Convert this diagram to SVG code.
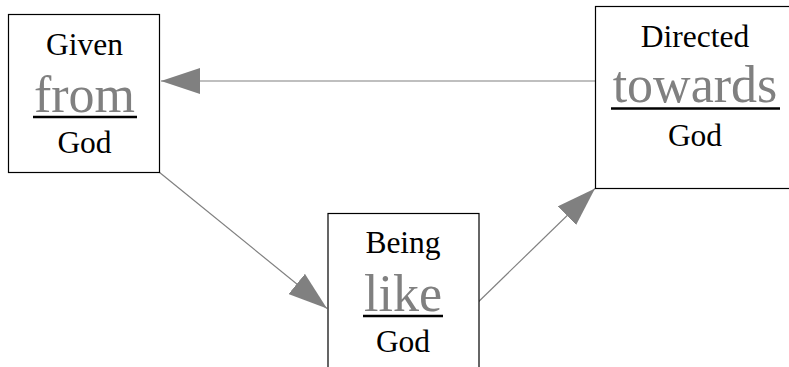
<svg xmlns="http://www.w3.org/2000/svg" width="789" height="367" viewBox="0 0 789 367">
<style>
.box{fill:#fff;stroke:#000;stroke-width:1.2}
.t{font-family:"Liberation Serif","Times New Roman",serif;font-size:31.5px;fill:#000;text-anchor:middle}
.big{font-family:"Liberation Serif","Times New Roman",serif;font-size:52px;fill:#808080;text-anchor:middle}
.ul{stroke:#000;stroke-width:2.6}
.conn{stroke:#808080;stroke-width:1.2;fill:none}
</style>
<defs>
<marker id="ah" markerUnits="userSpaceOnUse" markerWidth="40" markerHeight="26" refX="39" refY="13" orient="auto" viewBox="0 0 40 26">
<path d="M0,0 L39,13 L0,26 Z" fill="#808080"/>
</marker>
</defs>
<g id="connectors">
<line class="conn" x1="595" y1="81" x2="161" y2="81" marker-end="url(#ah)"/>
<line class="conn" x1="159.3" y1="172.3" x2="327" y2="308.5" marker-end="url(#ah)"/>
<line class="conn" x1="478.5" y1="301.7" x2="595" y2="188.5" marker-end="url(#ah)"/>
</g>
<g id="node-from">
<rect class="box" x="8.5" y="14.5" width="151" height="158"/>
<text class="t" x="84.5" y="55">Given</text>
<text class="big" x="84.5" y="112">from</text>
<line class="ul" x1="33" y1="117" x2="137" y2="117"/>
<text class="t" x="84.5" y="153">God</text>
</g>
<g id="node-like">
<rect class="box" x="328" y="213.5" width="151" height="170"/>
<text class="t" x="403" y="253">Being</text>
<text class="big" x="403" y="311">like</text>
<line class="ul" x1="363" y1="316" x2="443" y2="316"/>
<text class="t" x="403" y="352">God</text>
</g>
<g id="node-towards">
<rect class="box" x="595.5" y="6.5" width="200" height="182"/>
<text class="t" x="695" y="47">Directed</text>
<text class="big" x="695" y="102">towards</text>
<line class="ul" x1="611" y1="108.5" x2="780" y2="108.5"/>
<text class="t" x="695" y="146">God</text>
</g>
</svg>
